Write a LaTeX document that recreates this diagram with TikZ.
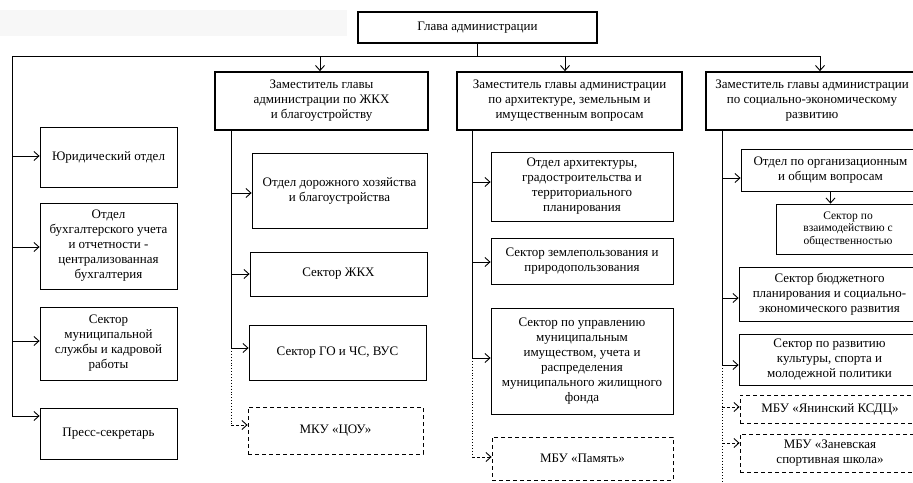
\documentclass[tikz,border=0pt]{standalone}
\usepackage{fontspec}
\setmainfont{Liberation Serif}
\usetikzlibrary{arrows.meta}

\begin{document}
\begin{tikzpicture}[x=1pt,y=-1pt,
  every node/.style={font=\fontsize{13}{15}\selectfont},
  dims/.style 2 args={minimum width=#1pt,minimum height=#2pt},
  unit/.style={draw,line width=.8pt,align=center,inner sep=1pt},
  chief/.style={unit,line width=1.7pt},
  ext/.style={unit,dash pattern=on 4pt off 3pt},
  bus/.style={line width=.9pt},
  extbus/.style={line width=.9pt,dotted},
  link/.style={-{Straight Barb[length=5pt,width=9pt]},line width=.9pt},
  extlink/.style={link,dash pattern=on 3pt off 2pt}]
  \useasboundingbox (0,0) rectangle (913,482);
  \fill[black!3] (0,10) rectangle (347,36);
  % top level
  \node[chief,dims={239}{31}] (head) at (477.5,27.5) {Глава администрации};
  \node[chief,dims={213}{58}] (dep1) at (321.5,101) {Заместитель главы\\администрации по ЖКХ\\и благоустройству};
  \node[chief,dims={225}{58}] (dep2) at (569.5,101) {Заместитель главы администрации\\по архитектуре, земельным и\\имущественным вопросам};
  \node[chief,dims={212}{58}] (dep3) at (812,101) {Заместитель главы администрации\\по социально-экономическому\\развитию};
  % left column
  \node[unit,dims={137}{60}] (jur) at (108.5,157) {Юридический отдел};
  \node[unit,dims={137}{86}] (buh) at (108.5,246) {Отдел\\бухгалтерского учета\\и отчетности -\\централизованная\\бухгалтерия};
  \node[unit,dims={137}{73}] (kadr) at (108.5,343.5) {Сектор\\муниципальной\\службы и кадровой\\работы};
  \node[unit,dims={137}{51}] (press) at (108.5,433.5) {Пресс-секретарь};
  % column 1
  \node[unit,dims={175}{75}] (dor) at (339.5,190.5) {Отдел дорожного хозяйства\\и благоустройства};
  \node[unit,dims={177}{44}] (zhkh) at (338.5,274) {Сектор ЖКХ};
  \node[unit,dims={177}{55}] (go) at (337.5,352.5) {Сектор ГО и ЧС, ВУС};
  \node[ext,dims={175}{47}] (tsou) at (335.5,430.5) {МКУ «ЦОУ»};
  % column 2
  \node[unit,dims={182}{69}] (arch) at (582,186.5) {Отдел архитектуры,\\градостроительства и\\территориального\\планирования};
  \node[unit,dims={182}{46}] (zem) at (582,261) {Сектор землепользования и\\природопользования};
  \node[unit,dims={182}{106}] (imush) at (582,361) {Сектор по управлению\\муниципальным\\имуществом, учета и\\распределения\\муниципального жилищного\\фонда};
  \node[ext,dims={181}{43}] (pamyat) at (582.5,458.5) {МБУ «Память»};
  % column 3
  \node[unit,dims={179}{42}] (org) at (830.5,170) {Отдел по организационным\\и общим вопросам};
  \node[unit,dims={144}{50},font=\fontsize{11.5}{12.5}\selectfont] (obsh) at (848,229) {Сектор по\\взаимодействию с\\общественностью};
  \node[unit,dims={181}{54}] (budg) at (829.5,294) {Сектор бюджетного\\планирования и социально-\\экономического развития};
  \node[unit,dims={181}{51}] (kult) at (829.5,359.5) {Сектор по развитию\\культуры, спорта и\\молодежной политики};
  \node[ext,dims={180}{28}] (yan) at (830,409) {МБУ «Янинский КСДЦ»};
  \node[ext,dims={180}{38}] (zan) at (830,453) {МБУ «Заневская\\спортивная школа»};
  % bus coordinates
  \coordinate (hb) at (head.south |- 0,56);
  \coordinate (lb) at (12,56);
  \coordinate (t1) at (320,56);
  \coordinate (t2) at (565,56);
  \coordinate (t3) at (820,56);
  \coordinate (l1) at (12,156);
  \coordinate (l2) at (12,247);
  \coordinate (l3) at (12,341);
  \coordinate (l4) at (12,416);
  \coordinate (a0) at (231,130);
  \coordinate (a1) at (231,193);
  \coordinate (a2) at (231,274);
  \coordinate (a3) at (231,348);
  \coordinate (a4) at (231,425);
  \coordinate (b0) at (472,130);
  \coordinate (b1) at (472,182);
  \coordinate (b2) at (472,262);
  \coordinate (b3) at (472,358);
  \coordinate (b4) at (472,457);
  \coordinate (c0) at (722,130);
  \coordinate (c1) at (722,178);
  \coordinate (c2) at (722,298);
  \coordinate (c3) at (722,365);
  \coordinate (c4) at (722,407);
  \coordinate (c5) at (722,443);
  \coordinate (c6) at (722,482);
  % lines
  \draw[bus] (head.south) -- (hb);
  \draw[bus] (l4) -- (lb) -- (t3);
  \draw[link] (t1) -- (t1 |- dep1.north);
  \draw[link] (t2) -- (t2 |- dep2.north);
  \draw[link] (t3) -- (t3 |- dep3.north);
  \draw[link] (l1) -- (l1 -| jur.west);
  \draw[link] (l2) -- (l2 -| buh.west);
  \draw[link] (l3) -- (l3 -| kadr.west);
  \draw[link] (l4) -- (l4 -| press.west);
  \draw[bus] (a0) -- (a3);
  \draw[extbus] (a3) -- (a4);
  \draw[link] (a1) -- (a1 -| dor.west);
  \draw[link] (a2) -- (a2 -| zhkh.west);
  \draw[link] (a3) -- (a3 -| go.west);
  \draw[extlink] (a4) -- (a4 -| tsou.west);
  \draw[bus] (b0) -- (b3);
  \draw[extbus] (b3) -- (b4);
  \draw[link] (b1) -- (b1 -| arch.west);
  \draw[link] (b2) -- (b2 -| zem.west);
  \draw[link] (b3) -- (b3 -| imush.west);
  \draw[extlink] (b4) -- (b4 -| pamyat.west);
  \draw[bus] (c0) -- (c3);
  \draw[extbus] (c3) -- (c6);
  \draw[link] (c1) -- (c1 -| org.west);
  \draw[link] (org.south) -- (org.south |- obsh.north);
  \draw[link] (c2) -- (c2 -| budg.west);
  \draw[link] (c3) -- (c3 -| kult.west);
  \draw[extlink] (c4) -- (c4 -| yan.west);
  \draw[extlink] (c5) -- (c5 -| zan.west);
\end{tikzpicture}
\end{document}
